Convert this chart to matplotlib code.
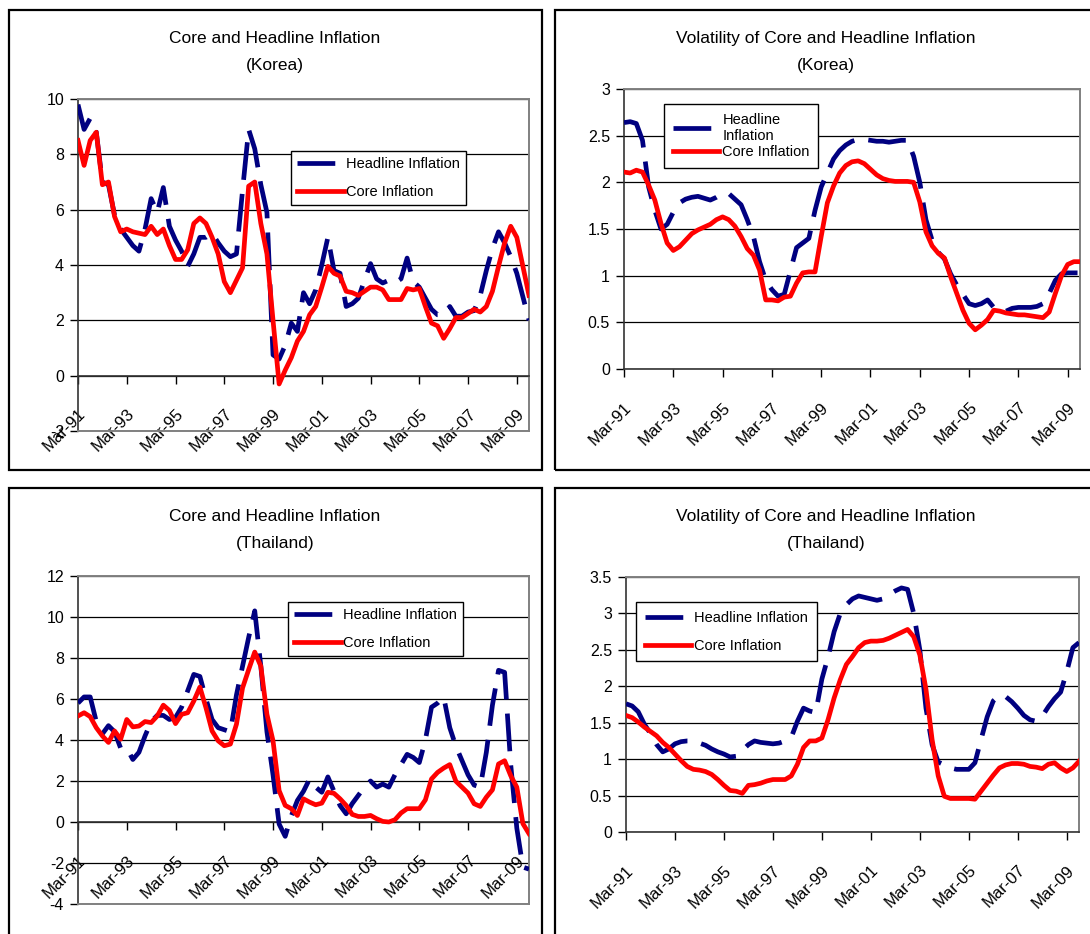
import numpy as np
import matplotlib
matplotlib.use('Agg')
import matplotlib.pyplot as plt
from matplotlib.patches import Rectangle
from matplotlib.ticker import FuncFormatter

plt.rcParams['font.family'] = ['Liberation Sans', 'DejaVu Sans']

# #/#/# Data (quarterly, Mar-91 .. Sep-09) #/#/#

tick_labels = ['Mar-91', 'Mar-93', 'Mar-95', 'Mar-97', 'Mar-99',
               'Mar-01', 'Mar-03', 'Mar-05', 'Mar-07', 'Mar-09']

korea_headline = [9.8, 8.9, 9.3, 8.8, 7.0, 6.9, 5.8, 5.3, 5.0, 4.7,
                  4.5, 5.3, 6.4, 5.9, 6.8, 5.4, 4.9, 4.5, 3.95, 4.4,
                  5.0, 5.0, 5.15, 4.8, 4.5, 4.3, 4.4, 6.7, 8.9, 8.2,
                  6.9, 5.9, 0.75, 0.6, 1.1, 1.9, 1.6, 3.0, 2.6, 3.1,
                  4.0, 5.0, 3.8, 3.7, 2.5, 2.6, 2.8, 3.45, 4.05, 3.5,
                  3.35, 3.45, 3.35, 3.5, 4.25, 3.4, 3.2, 2.8, 2.4, 2.2,
                  2.2, 2.5, 2.15, 2.15, 2.3, 2.35, 2.9, 3.8, 4.6, 5.2,
                  4.8, 4.3, 3.7, 2.85, 2.0]
korea_core = [8.5, 7.6, 8.5, 8.8, 6.9, 7.0, 5.75, 5.2, 5.3, 5.2,
              5.15, 5.1, 5.4, 5.1, 5.3, 4.7, 4.2, 4.2, 4.55, 5.5,
              5.7, 5.5, 5.0, 4.4, 3.4, 3.0, 3.45, 3.9, 6.85, 7.0,
              5.5, 4.4, 2.0, -0.3, 0.2, 0.65, 1.25, 1.6, 2.2, 2.5,
              3.2, 3.95, 3.7, 3.6, 3.05, 3.0, 2.9, 3.05, 3.2, 3.2,
              3.1, 2.75, 2.75, 2.75, 3.15, 3.1, 3.15, 2.5, 1.9, 1.8,
              1.35, 1.7, 2.1, 2.1, 2.25, 2.4, 2.3, 2.5, 3.05, 3.95,
              4.8, 5.4, 5.0, 3.95, 2.9]

korea_vol_headline = [2.64, 2.65, 2.63, 2.45, 1.95, 1.7, 1.5, 1.55, 1.68, 1.78,
                      1.82, 1.84, 1.85, 1.83, 1.81, 1.84, 1.88, 1.88, 1.82, 1.76,
                      1.6, 1.42, 1.15, 0.95, 0.85, 0.78, 0.8, 1.05, 1.3, 1.35,
                      1.4, 1.7, 1.95, 2.1, 2.25, 2.34, 2.4, 2.44, 2.46, 2.46,
                      2.45, 2.44, 2.44, 2.43, 2.44, 2.45, 2.45, 2.28, 2.0, 1.6,
                      1.38, 1.25, 1.18, 1.02, 0.9, 0.8, 0.7, 0.68, 0.7, 0.74,
                      0.66, 0.62, 0.62, 0.65, 0.66, 0.66, 0.66, 0.67, 0.7, 0.81,
                      0.95, 1.02, 1.03, 1.03, 1.03]
korea_vol_core = [2.11, 2.1, 2.13, 2.11, 1.97, 1.81, 1.56, 1.35, 1.27, 1.31,
                  1.38, 1.45, 1.49, 1.52, 1.55, 1.6, 1.63, 1.6, 1.53, 1.42,
                  1.29, 1.22, 1.06, 0.74, 0.74, 0.73, 0.77, 0.78, 0.92, 1.03,
                  1.04, 1.04, 1.42, 1.78, 1.96, 2.1, 2.18, 2.22, 2.23, 2.2,
                  2.14, 2.08, 2.04, 2.02, 2.01, 2.01, 2.01, 2.0, 1.79, 1.47,
                  1.32, 1.24, 1.19, 0.99, 0.81, 0.63, 0.49, 0.42, 0.47, 0.53,
                  0.63, 0.62, 0.6, 0.59, 0.58, 0.58, 0.57, 0.56, 0.55, 0.61,
                  0.81, 1.0, 1.12, 1.15, 1.15]

thai_headline = [5.8, 6.1, 6.1, 4.9, 4.3, 4.7, 4.4, 3.6, 3.6, 3.05,
                 3.4, 4.2, 4.9, 5.2, 5.2, 5.0, 5.1, 5.6, 6.4, 7.2,
                 7.1, 6.0, 5.0, 4.6, 4.5, 4.4, 6.2, 7.6, 9.0, 10.3,
                 7.6, 4.4, 2.3, -0.1, -0.7, 0.3, 1.05, 1.5, 2.1, 1.7,
                 1.45, 2.2, 1.5, 0.8, 0.4, 0.9, 1.3, 1.7, 2.0, 1.7,
                 1.85, 1.7, 2.3, 2.8, 3.3, 3.15, 2.9, 4.0, 5.6, 5.8,
                 6.1, 4.6, 3.7, 3.0, 2.3, 1.8, 1.7, 3.4, 5.7, 7.4,
                 7.3, 2.8, -0.3, -2.2, -2.3]
thai_core = [5.17, 5.33, 5.14, 4.6, 4.2, 3.88, 4.44, 4.04, 5.0, 4.64,
             4.68, 4.9, 4.85, 5.17, 5.7, 5.44, 4.8, 5.25, 5.33, 5.9,
             6.58, 5.57, 4.44, 3.96, 3.72, 3.8, 4.77, 6.54, 7.43, 8.29,
             7.6, 5.25, 3.96, 1.53, 0.81, 0.65, 0.32, 1.13, 0.97, 0.84,
             0.92, 1.45, 1.4, 1.13, 0.81, 0.37, 0.27, 0.27, 0.32, 0.16,
             0.03, 0.0, 0.11, 0.44, 0.65, 0.65, 0.65, 1.08, 2.1, 2.42,
             2.63, 2.8, 1.99, 1.7, 1.41, 0.89, 0.76, 1.21, 1.57, 2.83,
             2.99, 2.26, 1.7, -0.08, -0.57]

thai_vol_headline = [1.76, 1.73, 1.65, 1.48, 1.35, 1.2, 1.1, 1.14, 1.21, 1.24,
                     1.25, 1.25, 1.22, 1.19, 1.14, 1.1, 1.07, 1.03, 1.04, 1.12,
                     1.2, 1.25, 1.23, 1.22, 1.21, 1.22, 1.25, 1.3, 1.52, 1.7,
                     1.66, 1.64, 2.1, 2.4, 2.75, 3.0, 3.12, 3.2, 3.24, 3.22,
                     3.2, 3.18, 3.2, 3.26, 3.31, 3.35, 3.33, 3.0, 2.5, 1.7,
                     1.2, 0.96, 0.92, 0.88, 0.86, 0.86, 0.86, 0.95, 1.27, 1.58,
                     1.8, 1.88, 1.86, 1.79, 1.7, 1.6, 1.54, 1.52, 1.59, 1.72,
                     1.83, 1.92, 2.2, 2.53, 2.6]
thai_vol_core = [1.6, 1.57, 1.51, 1.44, 1.38, 1.32, 1.23, 1.16, 1.07, 0.98,
                 0.9, 0.86, 0.85, 0.83, 0.79, 0.72, 0.64, 0.57, 0.56, 0.53,
                 0.64, 0.65, 0.67, 0.7, 0.72, 0.72, 0.72, 0.77, 0.93, 1.16,
                 1.25, 1.25, 1.29, 1.54, 1.84, 2.09, 2.3, 2.41, 2.53, 2.6,
                 2.62, 2.62, 2.63, 2.66, 2.7, 2.74, 2.78, 2.68, 2.43, 1.96,
                 1.27, 0.77, 0.49, 0.46, 0.46, 0.46, 0.46, 0.45, 0.56, 0.67,
                 0.78, 0.88, 0.92, 0.94, 0.94, 0.93, 0.9, 0.89, 0.87, 0.93,
                 0.95, 0.88, 0.83, 0.88, 0.97]

# #/#/# Layout (everything measured in pixels of the 1090x934 picture) #/#/#

W, H = 1090, 934
NAVY = '#000080'
RED = '#FF0000'
GREY = '#808080'


def px_rect(left, top, right, bottom):
    '''pixel box -> figure fraction [x0, y0, w, h]'''
    return [left / W, 1 - bottom / H, (right - left) / W, (bottom - top) / H]


def draw_panel(fig, box, headline, core, ylim, ystep, zero_axis, head_label,
               legend_xy, borderpad=0.4, labelspacing=0.95):
    ax = fig.add_axes(px_rect(*box))
    x = np.arange(len(core))

    ax.plot(x, headline, color=NAVY, lw=3.4, dashes=(8, 3), label=head_label, zorder=3)
    ax.plot(x, core, color=RED, lw=3.4, solid_joinstyle='round', label='Core Inflation', zorder=4)

    ax.set_xlim(0, len(core) - 1)
    ax.set_ylim(*ylim)
    ax.set_yticks(np.arange(ylim[0], ylim[1] + ystep / 2, ystep))
    ax.yaxis.set_major_formatter(FuncFormatter(lambda v, p: f'{v:g}'))
    ax.set_xticks(np.arange(0, len(core), 8))
    ax.set_xticklabels(tick_labels)

    ax.set_axisbelow(True)
    ax.yaxis.grid(True, color='black', lw=0.9)

    for side in ['top', 'right']:
        ax.spines[side].set_color(GREY)
        ax.spines[side].set_linewidth(1.4)
    ax.spines['left'].set_color('#333333')
    ax.spines['left'].set_linewidth(1.2)
    ax.spines['bottom'].set_color('#333333')
    ax.spines['bottom'].set_linewidth(1.2)
    if zero_axis:
        # category axis crosses at 0, plot area border stays at the bottom
        ax.spines['bottom'].set_position(('data', 0))
        ax.axhline(ylim[0], color=GREY, lw=1.4, zorder=2.6, clip_on=False)

    ax.tick_params(axis='y', length=6, width=1, pad=4, labelsize=11.5)
    ax.tick_params(axis='x', length=6, width=1, pad=16, labelsize=12)
    plt.setp(ax.get_xticklabels(), rotation=45, ha='right', va='top',
             rotation_mode='anchor')

    leg = ax.legend(loc='upper left', bbox_to_anchor=(legend_xy[0] / W, 1 - legend_xy[1] / H),
                    bbox_transform=fig.transFigure, borderaxespad=0, frameon=True,
                    fancybox=False, edgecolor='black', framealpha=1, fontsize=10.5,
                    handlelength=3.2, handletextpad=0.2, borderpad=borderpad,
                    labelspacing=labelspacing)
    leg.get_frame().set_linewidth(1.0)
    return ax


def panel_frame(fig, left, top, right, bottom):
    fig.add_artist(Rectangle((left / W, 1 - bottom / H), (right - left) / W, (bottom - top) / H,
                             transform=fig.transFigure, fill=False, ec='black', lw=1.6))


def panel_title(fig, cx, cy, text):
    fig.text(cx / W, 1 - cy / H, text, ha='center', va='center', fontsize=12.5,
             linespacing=2.05)


fig = plt.figure(figsize=(W / 100, H / 100), dpi=100)

panel_frame(fig, 9, 10, 542, 470)
panel_frame(fig, 555, 10, 1096, 470)
panel_frame(fig, 9, 488, 542, 940)
panel_frame(fig, 555, 488, 1096, 940)

panel_title(fig, 275, 52, 'Core and Headline Inflation\n(Korea)')
panel_title(fig, 826, 52, 'Volatility of Core and Headline Inflation\n(Korea)')
panel_title(fig, 275, 530, 'Core and Headline Inflation\n(Thailand)')
panel_title(fig, 826, 530, 'Volatility of Core and Headline Inflation\n(Thailand)')

draw_panel(fig, (78, 99, 529, 431), korea_headline, korea_core, (-2, 10), 2, True,
           'Headline Inflation', (291, 151))
draw_panel(fig, (624, 89, 1080, 369), korea_vol_headline, korea_vol_core, (0, 3), 0.5, False,
           'Headline\nInflation', (664, 104), borderpad=0.6, labelspacing=0.15)
draw_panel(fig, (78, 576, 529, 904), thai_headline, thai_core, (-4, 12), 2, True,
           'Headline Inflation', (288, 602))
draw_panel(fig, (626, 577, 1079, 832), thai_vol_headline, thai_vol_core, (0, 3.5), 0.5, False,
           'Headline Inflation', (636, 602), borderpad=0.6)

fig.savefig('out.png', dpi=100)
